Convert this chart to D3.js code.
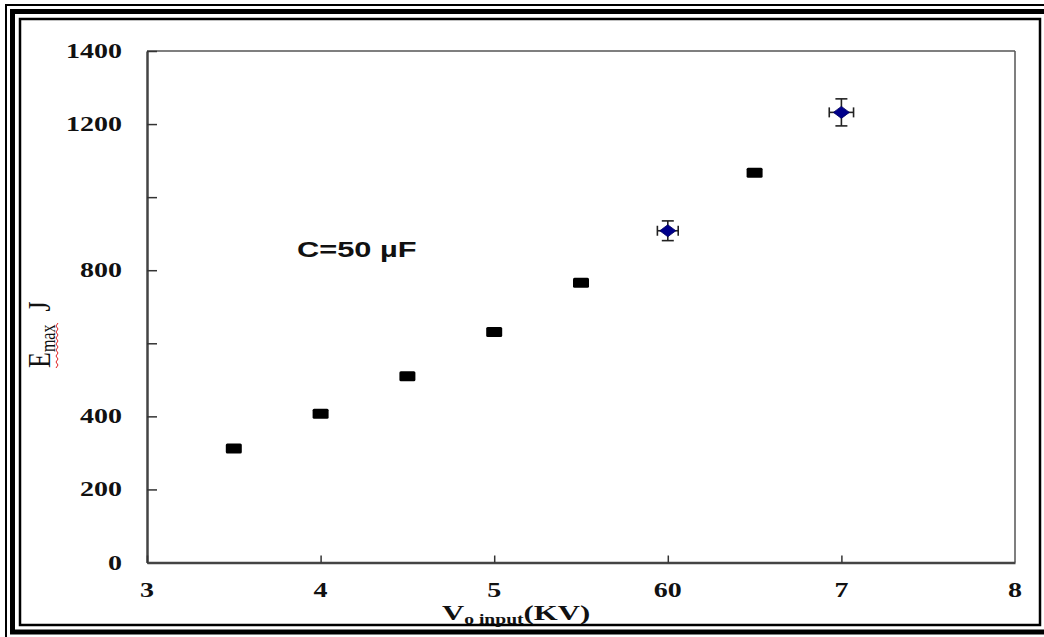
<!DOCTYPE html>
<html>
<head>
<meta charset="utf-8">
<script src="https://cdn.jsdelivr.net/npm/d3@7"></script>
<style>
  html, body { margin: 0; padding: 0; background: #fff; }
  svg { display: block; }
</style>
</head>
<body>
<div id="display-container"></div>
<script>
// measured points (black squares)
var squareVolts = [3.5, 4, 4.5, 5, 5.5, 6.5];
var squareEnergy = [312, 407, 510, 631, 766, 1067];
// points with error bars (blue diamonds)
var diamondVolts = [6, 7];
var diamondEnergy = [908, 1232];
var diamondErrE = [27, 37];
var diamondErrV = [0.06, 0.07];

var xTicks = [3, 4, 5, 6, 7, 8];
var xTickLabels = ["3", "4", "5", "60", "7", "8"];
var yTicks = [0, 200, 400, 600, 800, 1000, 1200, 1400];
var yTickLabels = ["0", "200", "400", "", "800", "", "1200", "1400"];

var width = 1044;
var height = 637;
var stretch = 1.4;   // the original figure is stretched sideways

var svg = d3.select("#display-container").append("svg")
    .attr("width", width)
    .attr("height", height);

// triple frame
svg.append("rect").attr("x", 6).attr("y", 5).attr("width", 1060).attr("height", 640)
    .style("fill", "none").style("stroke", "#000").style("stroke-width", 2);
svg.append("rect").attr("x", 12.5).attr("y", 11.5).attr("width", 1050).attr("height", 620.5)
    .style("fill", "none").style("stroke", "#000").style("stroke-width", 5);
svg.append("rect").attr("x", 20).attr("y", 19).attr("width", 1020).attr("height", 606)
    .style("fill", "none").style("stroke", "#000").style("stroke-width", 2.5);

var x = d3.scaleLinear().domain([3, 8]).range([147, 1015]);
var y = d3.scaleLinear().domain([0, 1400]).range([562.5, 51]);

// plot box: top and right
svg.append("line").attr("x1", x(3)).attr("x2", x(8)).attr("y1", y(1400)).attr("y2", y(1400))
    .style("stroke", "#555").style("stroke-width", 1.5);
svg.append("line").attr("x1", x(8)).attr("x2", x(8)).attr("y1", y(1400)).attr("y2", y(0))
    .style("stroke", "#555").style("stroke-width", 1.5);

// axes, ticks pointing inwards
var yAxis = svg.append("g").attr("transform", "translate(" + x(3) + ",0)")
    .call(d3.axisLeft(y).tickValues(yTicks).tickSize(-10).tickSizeOuter(0).tickFormat(""));
var xAxis = svg.append("g").attr("transform", "translate(0," + y(0) + ")")
    .call(d3.axisBottom(x).tickValues(xTicks.slice(0, 5)).tickSize(-7).tickSizeOuter(0).tickFormat(""));
svg.selectAll(".domain").style("stroke", "#444").style("stroke-width", 2.5);
svg.selectAll(".tick line").style("stroke", "#333").style("stroke-width", 1.5);

var serif = "'Liberation Serif', 'Times New Roman', serif";

// y tick labels
svg.selectAll(".ylab")
    .data(yTicks)
    .enter().append("text")
    .attr("class", "ylab")
    .attr("transform", function(d) { return "translate(122," + (y(d) + 7) + ") scale(" + stretch + ",1)"; })
    .style("text-anchor", "end")
    .style("font-family", serif)
    .style("font-weight", "bold")
    .style("font-size", "20px")
    .style("fill", "#111")
    .text(function(d, i) { return yTickLabels[i]; });

// x tick labels
svg.selectAll(".xlab")
    .data(xTicks)
    .enter().append("text")
    .attr("class", "xlab")
    .attr("transform", function(d) { return "translate(" + x(d) + ",597) scale(" + stretch + ",1)"; })
    .style("text-anchor", "middle")
    .style("font-family", serif)
    .style("font-weight", "bold")
    .style("font-size", "20px")
    .style("fill", "#111")
    .text(function(d, i) { return xTickLabels[i]; });

// x axis title
var xt = svg.append("text")
    .attr("transform", "translate(442,620) scale(" + stretch + ",1)")
    .style("font-family", serif)
    .style("font-weight", "bold")
    .style("font-size", "22px")
    .style("fill", "#111");
xt.append("tspan").text("V");
xt.append("tspan").attr("dy", 4).style("font-size", "14px").text("o input");
xt.append("tspan").attr("dy", -4).text("(KV)");

// y axis title (rotated)
var yt = svg.append("text")
    .attr("transform", "translate(50,368) scale(1.25,1) rotate(-90)")
    .style("font-family", serif)
    .style("font-size", "26px")
    .style("white-space", "pre")
    .style("fill", "#111");
yt.append("tspan").text("E");
yt.append("tspan").attr("dy", 4).style("font-size", "16px").text("max");
yt.append("tspan").attr("dy", -4).text("  J");

// red spell-check squiggle under "max"
var squiggle = d3.range(0, 16).map(function(i) { return [56 + (i % 2 ? 2 : 0), 368 - i * 3]; });
svg.append("path")
    .attr("d", d3.line()(squiggle))
    .style("fill", "none").style("stroke", "#e02020").style("stroke-width", 1);

// annotation
svg.append("text")
    .attr("transform", "translate(297,257) scale(" + stretch + ",1)")
    .style("font-family", "'Liberation Sans', Arial, sans-serif")
    .style("font-weight", "bold")
    .style("font-size", "22px")
    .style("fill", "#111")
    .text("C=50 \u00b5F");

// error bars
var eb = svg.selectAll(".err")
    .data(diamondVolts)
    .enter().append("g")
    .attr("class", "err")
    .style("stroke", "#222")
    .style("stroke-width", 1.6);
eb.append("line")
    .attr("x1", function(d) { return x(d); }).attr("x2", function(d) { return x(d); })
    .attr("y1", function(d, i) { return y(diamondEnergy[i] - diamondErrE[i]); })
    .attr("y2", function(d, i) { return y(diamondEnergy[i] + diamondErrE[i]); });
eb.append("line")
    .attr("x1", function(d) { return x(d) - 6; }).attr("x2", function(d) { return x(d) + 6; })
    .attr("y1", function(d, i) { return y(diamondEnergy[i] - diamondErrE[i]); })
    .attr("y2", function(d, i) { return y(diamondEnergy[i] - diamondErrE[i]); });
eb.append("line")
    .attr("x1", function(d) { return x(d) - 6; }).attr("x2", function(d) { return x(d) + 6; })
    .attr("y1", function(d, i) { return y(diamondEnergy[i] + diamondErrE[i]); })
    .attr("y2", function(d, i) { return y(diamondEnergy[i] + diamondErrE[i]); });
eb.append("line")
    .attr("x1", function(d, i) { return x(d - diamondErrV[i]); })
    .attr("x2", function(d, i) { return x(d + diamondErrV[i]); })
    .attr("y1", function(d, i) { return y(diamondEnergy[i]); })
    .attr("y2", function(d, i) { return y(diamondEnergy[i]); });
eb.append("line")
    .attr("x1", function(d, i) { return x(d - diamondErrV[i]); })
    .attr("x2", function(d, i) { return x(d - diamondErrV[i]); })
    .attr("y1", function(d, i) { return y(diamondEnergy[i]) - 5; })
    .attr("y2", function(d, i) { return y(diamondEnergy[i]) + 5; });
eb.append("line")
    .attr("x1", function(d, i) { return x(d + diamondErrV[i]); })
    .attr("x2", function(d, i) { return x(d + diamondErrV[i]); })
    .attr("y1", function(d, i) { return y(diamondEnergy[i]) - 5; })
    .attr("y2", function(d, i) { return y(diamondEnergy[i]) + 5; });

// diamonds
svg.selectAll(".diamond")
    .data(diamondVolts)
    .enter().append("path")
    .attr("class", "diamond")
    .attr("transform", function(d, i) { return "translate(" + x(d) + "," + y(diamondEnergy[i]) + ")"; })
    .attr("d", "M-8,0L0,-6L8,0L0,6Z")
    .style("fill", "#00008b")
    .style("stroke", "#000060")
    .style("stroke-width", 0.8);

// squares
svg.selectAll(".square")
    .data(squareVolts)
    .enter().append("rect")
    .attr("class", "square")
    .attr("x", function(d) { return x(d) - 8; })
    .attr("y", function(d, i) { return y(squareEnergy[i]) - 5; })
    .attr("width", 16)
    .attr("height", 10)
    .attr("rx", 1.5)
    .style("fill", "#000");
</script>
</body>
</html>
